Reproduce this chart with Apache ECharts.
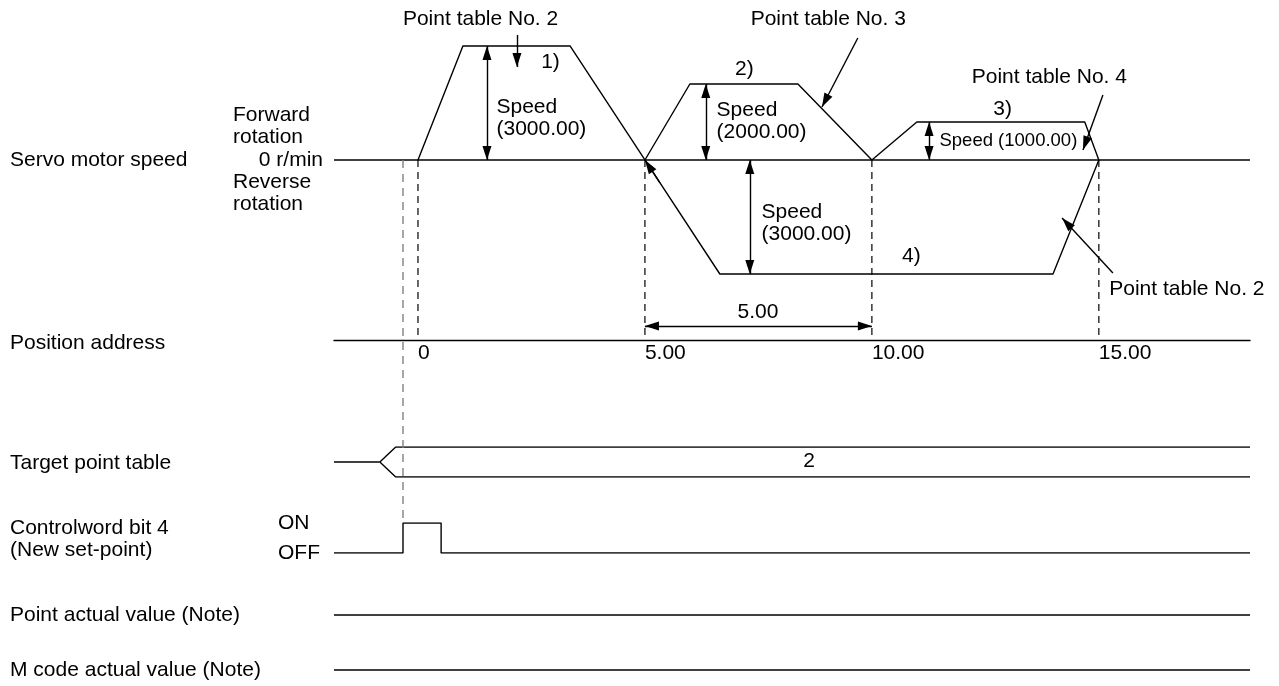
<!DOCTYPE html>
<html>
<head>
<meta charset="utf-8">
<script src="https://cdn.jsdelivr.net/npm/echarts@6/dist/echarts.min.js"></script>
<style>
  html, body { margin: 0; padding: 0; background: #fff; }
  #chart { width: 1279px; height: 686px; }
</style>
</head>
<body>
<div id="chart"></div>
<script>
// x = position address units, speed in r/min
const xMin = -1.85
const xMax = 18.33
const speedMin = -4737
const speedMax = 4210

// moves 1) 2) 3) forward
const fwdX = [0, 0.99, 3.35, 5, 5.99, 8.37, 10, 10.99, 14.69, 15]
const fwdSpeed = [0, 3000, 3000, 0, 2000, 2000, 0, 1000, 1000, 0]
// move 4) reverse
const revX = [5, 6.65, 13.99, 15]
const revSpeed = [0, -3000, -3000, 0]

const positionTicks = [0, 5, 10, 15]
const positionLabels = ['0', '5.00', '10.00', '15.00']
const moveDistance = [5, 10]
const moveDistanceLabel = '5.00'

const dimX = [1.52, 6.34, 11.26, 7.31]
const dimSpeed = [3000, 2000, 1000, -3000]
const dimText = ['Speed\n(3000.00)', 'Speed\n(2000.00)', 'Speed (1000.00)', 'Speed\n(3000.00)']
const dimTextX = [1.74, 6.59, 11.5, 7.58]
const dimTextY = [1079, 1013, 500, -1671]

const stepNames = ['1)', '2)', '3)', '4)']
const stepX = [2.93, 7.2, 12.89, 10.88]
const stepY = [2553, 2368, 1316, -2553]

const calloutText = ['Point table No. 2', 'Point table No. 3', 'Point table No. 4', 'Point table No. 2']
const calloutTextX = [1.39, 9.05, 13.92, 15.24]
const calloutTextY = [3684, 3684, 2158, -3421]
const calloutFrom = [[2.18, 3289], [9.69, 3211], [15.09, 1711], [15.31, -2974], [5.33, -600]]
const calloutTo = [[2.18, 2447], [8.9, 1395], [14.65, 263], [14.19, -1526], [5, 0]]

// target point table bus
const targetSplitX = [-0.84, -0.49]
const targetValue = '2'
const targetValueX = 8.63
// controlword bit 4 pulse
const pulseX = [xMin, -0.33, -0.33, 0.51, 0.51, xMax]
const pulseLevel = [0, 0, 1, 1, 0, 0]
const requestX = -0.33

const rowLabels = ['Servo motor speed', 'Position address', 'Target point table',
  'Controlword bit 4\n(New set-point)', 'Point actual value (Note)', 'M code actual value (Note)']
const rowLabelY = [160, 343, 463, 539, 615, 670]

const FONT = '"Liberation Sans", Arial, sans-serif'
const LW = 1.4

const chart = echarts.init(document.getElementById('chart'))

const zip = (xs, ys) => xs.map((x, i) => [x, ys[i]])
const plainLine = (grid, data, extra) => Object.assign({
  type: 'line',
  xAxisIndex: grid,
  yAxisIndex: grid,
  data: data,
  showSymbol: false,
  symbol: 'none',
  silent: true,
  lineStyle: { color: '#000', width: LW },
}, extra || {})

const arrowEnd = { symbol: 'triangle', symbolSize: [9, 14], symbolOffset: [0, '50%'] }
const noEnd = { symbol: 'none' }

const markLines = []
dimX.forEach((x, i) => {
  markLines.push([
    Object.assign({ coord: [x, 0] }, arrowEnd),
    Object.assign({ coord: [x, dimSpeed[i]] }, arrowEnd),
  ])
})
calloutFrom.forEach((p, i) => {
  markLines.push([
    Object.assign({ coord: p }, noEnd),
    Object.assign({ coord: calloutTo[i] }, arrowEnd),
  ])
})
markLines.push([
  Object.assign({ coord: [moveDistance[0], -4368] }, arrowEnd),
  Object.assign({ coord: [moveDistance[1], -4368] }, arrowEnd),
])

const textItem = (x, y, text, align, size) => ({
  value: [x, y],
  label: { formatter: text, align: align, fontSize: size },
})
const texts = []
dimText.forEach((t, i) => texts.push(textItem(dimTextX[i], dimTextY[i], t, 'left', t.indexOf('\n') < 0 ? 18.5 : 21)))
stepNames.forEach((t, i) => texts.push(textItem(stepX[i], stepY[i], t, 'center', 21)))
calloutText.forEach((t, i) => texts.push(textItem(calloutTextX[i], calloutTextY[i], t, i === 3 ? 'left' : 'center', 21)))
texts.push(textItem((moveDistance[0] + moveDistance[1]) / 2, -4026, moveDistanceLabel, 'center', 21))

const textSeries = (grid, data) => ({
  type: 'scatter',
  xAxisIndex: grid,
  yAxisIndex: grid,
  symbolSize: 1,
  itemStyle: { color: 'transparent', opacity: 1 },
  silent: true,
  label: {
    show: true,
    position: [0, 0],
    verticalAlign: 'middle',
    color: '#000',
    opacity: 1,
    fontFamily: FONT,
    lineHeight: 22,
  },
  data: data,
})

const grids = [
  { left: 334, right: 29, top: 0, height: 340 },
  { left: 334, right: 29, top: 447, height: 30 },
  { left: 334, right: 29, top: 523, height: 30 },
  { left: 334, right: 29, top: 605, height: 20 },
  { left: 334, right: 29, top: 660, height: 20 },
  { left: 334, right: 29, top: 160, height: 363 },
]

const xAxes = grids.map((g, i) => ({
  type: 'value',
  gridIndex: i,
  min: xMin,
  max: xMax,
  show: i === 0,
  splitLine: { show: false },
  axisTick: { show: false },
  axisLine: { show: true, onZero: false, lineStyle: { color: '#000', width: LW } },
  axisLabel: {
    customValues: positionTicks,
    formatter: v => positionLabels[positionTicks.indexOf(v)],
    align: 'left',
    margin: 3,
    color: '#000',
    fontSize: 21,
    fontFamily: FONT,
  },
}))

const yRange = [[speedMin, speedMax], [-1, 1], [0, 1], [-1, 1], [-1, 1], [0, 1]]
const yAxes = grids.map((g, i) => ({
  type: 'value',
  gridIndex: i,
  min: yRange[i][0],
  max: yRange[i][1],
  show: i === 0 || i === 2,
  splitLine: { show: false },
  axisTick: { show: false },
  axisLine: { show: false },
  axisLabel: i === 0 ? {
    customValues: [0],
    formatter: () => '0 r/min',
    margin: 11,
    color: '#000',
    fontSize: 21,
    fontFamily: FONT,
  } : {
    customValues: [0, 1],
    formatter: v => (v === 1 ? 'ON' : 'OFF'),
    align: 'left',
    margin: 56,
    color: '#000',
    fontSize: 21,
    fontFamily: FONT,
  },
}))

const series = [
  plainLine(0, [[xMin, 0], [xMax, 0]]),
  plainLine(0, zip(fwdX, fwdSpeed), {
    markLine: {
      silent: true,
      animation: false,
      label: { show: false },
      lineStyle: { color: '#000', width: LW, type: 'solid' },
      itemStyle: { color: '#000' },
      data: markLines,
    },
  }),
  plainLine(0, zip(revX, revSpeed)),
  textSeries(0, texts),
]
positionTicks.forEach(x => {
  series.push(plainLine(0, [[x, 0], [x, speedMin]], {
    lineStyle: { color: '#000', width: 1.2, type: [7, 5] },
  }))
})

series.push(plainLine(1, [[xMin, 0], [targetSplitX[0], 0]]))
series.push(plainLine(1, [[targetSplitX[0], 0], [targetSplitX[1], 1], [xMax, 1]]))
series.push(plainLine(1, [[targetSplitX[0], 0], [targetSplitX[1], -1], [xMax, -1]]))
series.push(textSeries(1, [textItem(targetValueX, 0, targetValue, 'center', 21)]))

series.push(plainLine(2, zip(pulseX, pulseLevel)))
series.push(plainLine(3, [[xMin, 0], [xMax, 0]]))
series.push(plainLine(4, [[xMin, 0], [xMax, 0]]))
series.push(plainLine(5, [[requestX, 1], [requestX, 0]], {
  lineStyle: { color: '#808080', width: 1.4, type: [8, 6] },
}))

const graphics = rowLabels.map((t, i) => ({
  type: 'text',
  x: 10,
  y: rowLabelY[i],
  silent: true,
  style: { text: t, fill: '#000', font: '21px ' + FONT, verticalAlign: 'middle', lineHeight: 22 },
}))
graphics.push({
  type: 'text', x: 233, y: 126, silent: true,
  style: { text: 'Forward\nrotation', fill: '#000', font: '21px ' + FONT, verticalAlign: 'middle', lineHeight: 22 },
})
graphics.push({
  type: 'text', x: 233, y: 193, silent: true,
  style: { text: 'Reverse\nrotation', fill: '#000', font: '21px ' + FONT, verticalAlign: 'middle', lineHeight: 22 },
})

chart.setOption({
  animation: false,
  backgroundColor: '#fff',
  grid: grids,
  xAxis: xAxes,
  yAxis: yAxes,
  series: series,
  graphic: graphics,
})
</script>
</body>
</html>
